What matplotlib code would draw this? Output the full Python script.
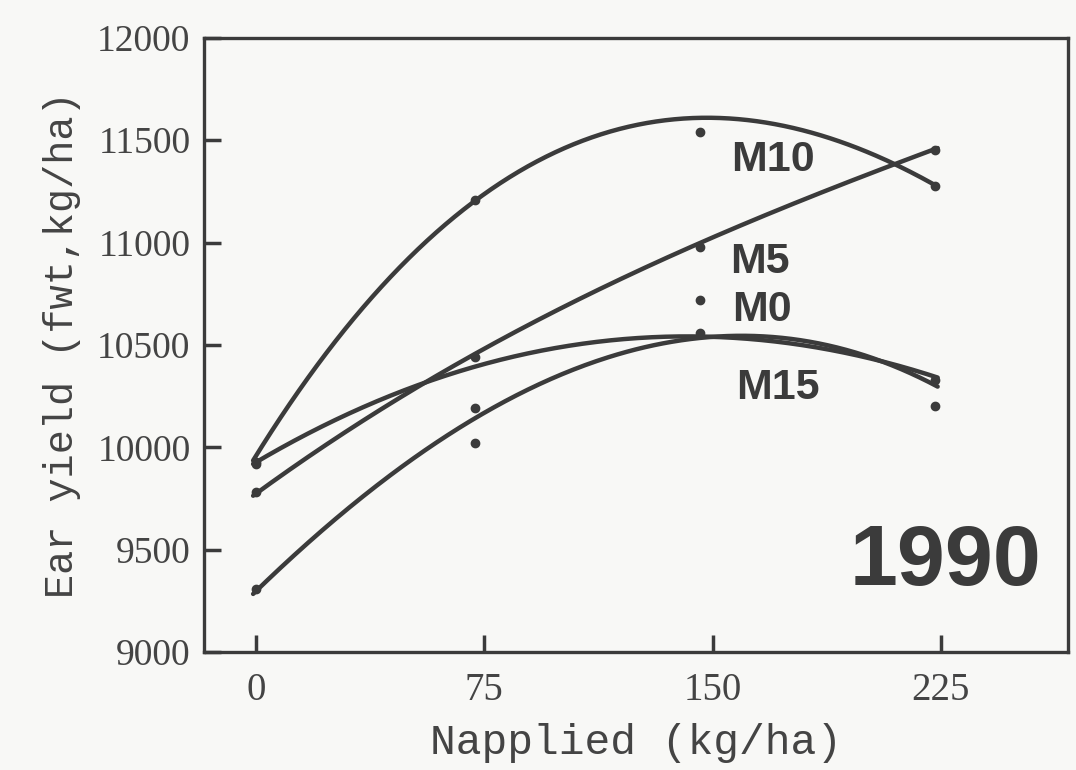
import numpy as np
import matplotlib
matplotlib.use("Agg")
import matplotlib.pyplot as plt

# ---- data ----
n_points = [0, 72, 146, 223]
m10_points = [9930, 11210, 11540, 11275]
m5_points = [9780, 10440, 10980, 11450]
m0_points = [9920, 10020, 10720, 10330]
m15_points = [9310, 10190, 10560, 10200]

curve_x = [0, 25, 50, 75, 100, 125, 150, 175, 200, 223]
m10_curve = [9930, 10560, 10910, 11215, 11440, 11570, 11625, 11570, 11450, 11275]
m5_curve = [9780, 10020, 10270, 10490, 10680, 10860, 11010, 11180, 11340, 11450]
m0_curve = [9925, 10130, 10290, 10405, 10485, 10530, 10545, 10510, 10440, 10345]
m15_curve = [9310, 9625, 9905, 10200, 10340, 10490, 10550, 10525, 10425, 10320]

series_names = ["M10", "M5", "M0", "M15"]
label_x = [169.7, 165.5, 166.1, 171.4]
label_y = [11401, 10903, 10671, 10290]

x_ticks = [0, 75, 150, 225]
y_ticks = [9000, 9500, 10000, 10500, 11000, 11500, 12000]
year_label = "1990"

# ---- drawing ----
ink = "#3b3b3b"
bg = "#f8f8f6"
fig = plt.figure(figsize=(10.76, 7.70), dpi=100, facecolor=bg)
ax = fig.add_axes([0.19, 0.153, 0.803, 0.798])
ax.set_facecolor(bg)

curves = [m10_curve, m5_curve, m0_curve, m15_curve]
points = [m10_points, m5_points, m0_points, m15_points]
xs = np.linspace(min(curve_x) - 1, max(curve_x) + 1, 300)
for cv, pts in zip(curves, points):
    coef = np.polyfit(curve_x, cv, 3)
    ax.plot(xs, np.polyval(coef, xs), color=ink, lw=3.2, solid_capstyle="round")
    ax.plot(n_points, pts, "o", color=ink, ms=6, mec=ink)

for name, lx, ly in zip(series_names, label_x, label_y):
    ax.text(lx, ly, name, fontsize=31, fontweight="bold", color=ink,
            family="Liberation Sans", ha="center", va="center")

ax.text(226.6, 9435, year_label, fontsize=62, fontweight="bold", color=ink,
        family="Liberation Sans", ha="center", va="center")

ax.set_xlim(-17, 267)
ax.set_ylim(9000, 12000)
ax.set_xticks(x_ticks)
ax.set_yticks(y_ticks)
ax.set_xticklabels([str(v) for v in x_ticks], family="Liberation Serif", fontsize=28, color="#444444")
ax.set_yticklabels([str(v) for v in y_ticks], family="Liberation Serif", fontsize=27, color="#444444")
ax.tick_params(axis="both", direction="in", length=12, width=2.5, color=ink)
ax.tick_params(axis="x", pad=14)
ax.tick_params(axis="y", pad=10)
for s in ax.spines.values():
    s.set_linewidth(2.4)
    s.set_color(ink)

ax.set_xlabel("Napplied (kg/ha)", family="Liberation Mono", fontsize=31, color="#444444", labelpad=10)
ax.set_ylabel("Ear yield (fwt,kg/ha)", family="Liberation Mono", fontsize=29, color="#444444", labelpad=12)

fig.savefig("out.png", dpi=100, facecolor=bg)
